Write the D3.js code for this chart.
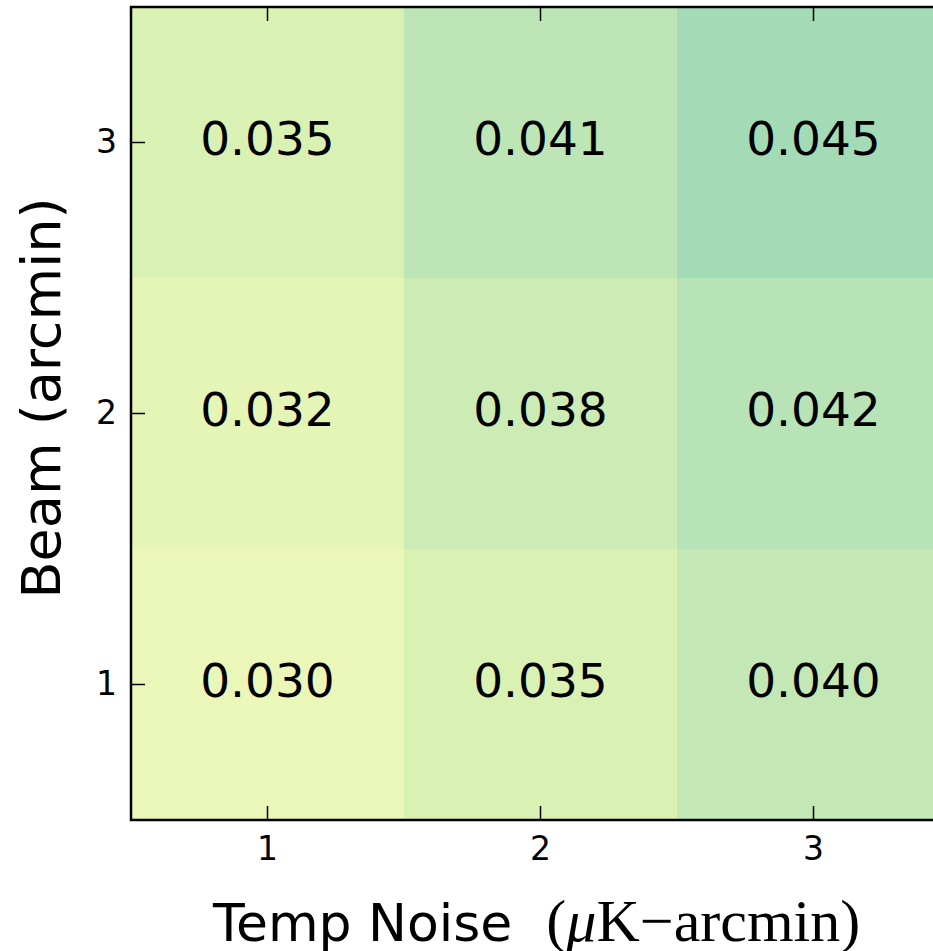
<!DOCTYPE html>
<html>
<head>
<meta charset="utf-8">
<script src="https://cdn.jsdelivr.net/npm/d3@7"></script>
<style>
  body { margin: 0; background: #fff; }
  svg { display: block; }
</style>
</head>
<body>
<svg id="chart" width="933" height="951"></svg>
<script>
var noise = [1, 2, 3],          // Temp Noise (uK-arcmin), x
    beam = [1, 2, 3],           // Beam (arcmin), y
    // rows = beam 1..3, columns = noise 1..3
    sigma = [
      [0.030, 0.035, 0.040],
      [0.032, 0.038, 0.042],
      [0.035, 0.041, 0.045]
    ],
    tickLabels = ["1", "2", "3"];

var svg = d3.select("#chart"),
  pL = 131, pR = 950, pT = 7, pB = 820,
  x = d3.scaleBand().domain(noise).range([pL, pR]),
  y = d3.scaleBand().domain(beam).range([pB, pT]),
  tpos = d3.scaleLinear().domain([0.030, 0.045]).range([0.12, 0.31]),
  color = function (v) { return d3.interpolateYlGnBu(tpos(v)); };

var cells = [];
sigma.forEach(function (row, i) {
  row.forEach(function (v, j) {
    cells.push({ b: beam[i], n: noise[j], v: v });
  });
});

svg.append("g").selectAll("rect")
  .data(cells)
  .enter().append("rect")
    .attr("x", function (d) { return x(d.n); })
    .attr("y", function (d) { return y(d.b); })
    .attr("width", x.bandwidth())
    .attr("height", y.bandwidth())
    .attr("fill", function (d) { return color(d.v); });

svg.append("g").selectAll("text")
  .data(cells)
  .enter().append("text")
    .attr("x", function (d) { return x(d.n) + x.bandwidth() / 2; })
    .attr("y", function (d) { return y(d.b) + y.bandwidth() / 2; })
    .attr("text-anchor", "middle")
    .attr("dy", "0.26em")
    .style("font", "47px 'DejaVu Sans'")
    .text(function (d) { return d.v.toFixed(3); });

// axes, ticks point inward like matplotlib's classic style
function styleAxis(g) {
  g.select(".domain").remove();
  g.selectAll("line").attr("stroke", "#000").attr("stroke-width", 1.5);
  g.selectAll("text").style("font", "33px 'DejaVu Sans'").attr("fill", "#000");
}

svg.append("g")
  .attr("transform", "translate(0," + pB + ")")
  .call(d3.axisBottom(x).tickSize(-14).tickPadding(17)
    .tickFormat(function (d, i) { return tickLabels[i]; }))
  .call(styleAxis);

svg.append("g")
  .attr("transform", "translate(0," + pT + ")")
  .call(d3.axisTop(x).tickSize(-14).tickFormat(""))
  .call(styleAxis);

svg.append("g")
  .attr("transform", "translate(" + pL + ",0)")
  .call(d3.axisLeft(y).tickSize(-14).tickPadding(14)
    .tickFormat(function (d, i) { return tickLabels[i]; }))
  .call(styleAxis);

svg.append("rect")
  .attr("x", pL).attr("y", pT)
  .attr("width", pR - pL).attr("height", pB - pT)
  .attr("fill", "none").attr("stroke", "#000").attr("stroke-width", 2.5);

var xl = svg.append("text")
  .attr("x", 213)
  .attr("y", 941);
xl.append("tspan").style("font", "52px 'DejaVu Sans'").text("Temp Noise");
xl.append("tspan").attr("dx", 34).style("font", "60px 'Liberation Serif'").text("(");
xl.append("tspan").style("font", "italic 60px 'Liberation Serif'").text("\u03bc");
xl.append("tspan").style("font", "60px 'Liberation Serif'").text("K\u2212arcmin)");

svg.append("text")
  .attr("transform", "translate(60," + 398 + ") rotate(-90)")
  .attr("text-anchor", "middle")
  .style("font", "54px 'DejaVu Sans'")
  .text("Beam (arcmin)");
</script>
</body>
</html>
